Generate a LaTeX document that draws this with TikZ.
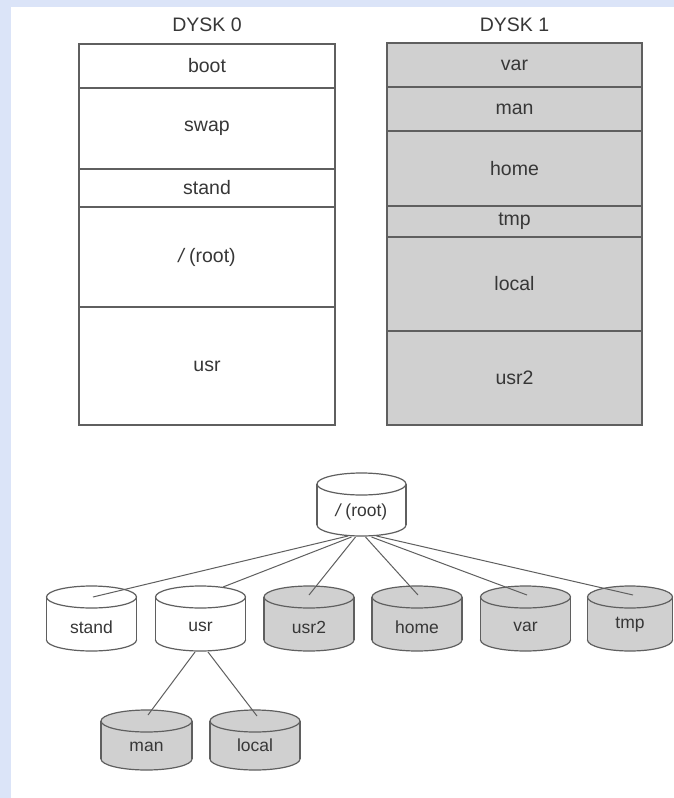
\documentclass[tikz,border=0pt]{standalone}
\usepackage{fontspec}
\setmainfont{Liberation Sans}
\usetikzlibrary{calc}
\definecolor{bgblue}{RGB}{219,228,248}
\definecolor{ln}{RGB}{95,95,95}
\definecolor{txt}{RGB}{55,55,55}
\definecolor{shade}{RGB}{208,208,208}
\tikzset{
  boxtext/.style={text=txt,inner sep=0pt,font=\fontsize{19.5}{22}\selectfont},
  cyltext/.style={text=txt,inner sep=0pt,font=\fontsize{17.5}{20}\selectfont},
  frame/.style={draw=ln,line width=1.3pt},
  edge/.style={draw=ln,line width=1pt},
}
% name, cx, top, bottom, rx, fill, label, label y
\newcommand\mycyl[8]{%
  \path[fill=#6,draw=ln,line width=1.2pt] (#2,#4-11) ellipse[x radius=#5,y radius=11];
  \path[fill=#6] (#2-#5,#3+11) rectangle (#2+#5,#4-11);
  \draw[ln,line width=1.2pt] (#2-#5,#3+11) -- (#2-#5,#4-11) (#2+#5,#3+11) -- (#2+#5,#4-11);
  \path[fill=#6,draw=ln,line width=1.2pt] (#2,#3+11) ellipse[x radius=#5,y radius=11];
  \node[cyltext] (#1) at (#2,#8) {#7};
}
\begin{document}
\begin{tikzpicture}[x=1pt,y=-1pt]
\useasboundingbox (0,0) rectangle (674,798);
\fill[bgblue] (0,0) rectangle (674,798);
\fill[white] (11,7) rectangle (674,798);

% Disk 0
\node[boxtext] (d0) at (207,25) {DYSK 0};
\path[frame,fill=white] (79,44) rectangle (335,425);
\draw[frame] (79,88) -- (335,88) (79,169) -- (335,169) (79,207) -- (335,207) (79,307) -- (335,307);
\node[boxtext] (b0boot) at (207,66) {boot};
\node[boxtext] (b0swap) at (207,128) {swap};
\node[boxtext] (b0stand) at (207,188) {stand};
\node[boxtext] (b0root) at (207,257) {{\itshape /} (root)};
\node[boxtext] (b0usr) at (207,366) {usr};

% Disk 1
\node[boxtext] (d1) at (514.5,25) {DYSK 1};
\path[frame,fill=shade] (387,43) rectangle (642,425);
\draw[frame] (387,87) -- (642,87) (387,131) -- (642,131) (387,206) -- (642,206) (387,237) -- (642,237) (387,331) -- (642,331);
\node[boxtext] (b1var) at (514.5,65) {var};
\node[boxtext] (b1man) at (514.5,109) {man};
\node[boxtext] (b1home) at (514.5,168.5) {home};
\node[boxtext] (b1tmp) at (514.5,221.5) {tmp};
\node[boxtext] (b1local) at (514.5,284) {local};
\node[boxtext] (b1usr2) at (514.5,378) {usr2};

% Tree
\mycyl{root}{361.5}{473}{536}{44.5}{white}{{\itshape /} (root)}{512}
\mycyl{stand}{91.5}{586}{651}{45}{white}{stand}{627}
\mycyl{usr}{200.5}{586}{651}{45}{white}{usr}{627}
\mycyl{usrtwo}{309}{586}{651}{45}{shade}{usr2}{627}
\mycyl{home}{417}{586}{651}{45}{shade}{home}{627}
\mycyl{var}{525.5}{586}{651}{45}{shade}{var}{627}
\mycyl{tmp}{630}{586}{651}{42.5}{shade}{tmp}{625}
\mycyl{man}{146.5}{710}{770}{45.5}{shade}{man}{747}
\mycyl{local}{255}{710}{770}{45}{shade}{local}{745}

\draw[edge] ($(root)+(-13.5,24)$) -- ($(stand)+(1.5,-30)$);
\draw[edge] ($(root)+(-10,25)$) -- ($(usr)+(22.5,-40)$);
\draw[edge] ($(root)+(-6,25)$) -- ($(usrtwo)+(0,-32)$);
\draw[edge] ($(root)+(4,25)$) -- ($(home)+(1,-32)$);
\draw[edge] ($(root)+(10,25)$) -- ($(var)+(1.5,-32)$);
\draw[edge] ($(root)+(15,24)$) -- ($(tmp)+(3,-30)$);
\draw[edge] ($(usr)+(-5.5,25)$) -- ($(man)+(1.5,-32)$);
\draw[edge] ($(usr)+(7.5,25)$) -- ($(local)+(2,-29)$);
\end{tikzpicture}
\end{document}
